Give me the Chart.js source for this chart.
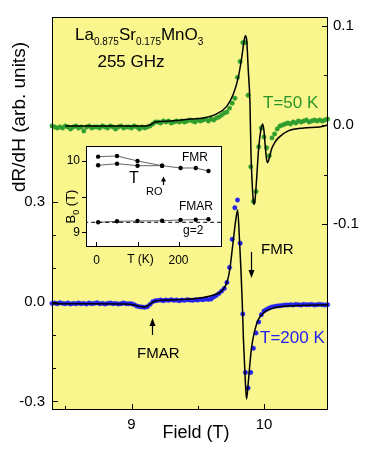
<!DOCTYPE html>
<html>
<head>
<meta charset="utf-8">
<script src="https://cdn.jsdelivr.net/npm/chart.js@4.4.0/dist/chart.umd.min.js"></script>
<style>
  html, body { margin: 0; padding: 0; background: #fff; }
  #wrap { position: relative; width: 370px; height: 453px; }
  #wrap canvas { position: absolute; left: 0; top: 0; }
</style>
</head>
<body>
<div id="wrap">
  <canvas id="mainChart" width="370" height="453"></canvas>
  <canvas id="insetChart" width="370" height="453"></canvas>
</div>
<script>
(function(){

	"use strict";

// Field grid (T), shared by both spectra
	const field = [8.40,8.42,8.44,8.46,8.48,8.50,8.52,8.54,8.56,8.58,
		8.60,8.62,8.64,8.66,8.68,8.70,8.72,8.74,8.76,8.78,
		8.80,8.82,8.84,8.86,8.88,8.90,8.92,8.94,8.96,8.98,
		9.00,9.02,9.04,9.06,9.08,9.10,9.12,9.14,9.16,9.18,
		9.20,9.22,9.24,9.26,9.28,9.30,9.32,9.34,9.36,9.38,
		9.40,9.42,9.44,9.46,9.48,9.50,9.52,9.54,9.56,9.58,
		9.60,9.62,9.64,9.66,9.68,9.70,9.72,9.74,9.76,9.78,
		9.80,9.82,9.84,9.86,9.88,9.90,9.92,9.94,9.96,9.98,
		10.00,10.02,10.04,10.06,10.08,10.10,10.12,10.14,10.16,10.18,
		10.20,10.22,10.24,10.26,10.28,10.30,10.32,10.34,10.36,10.38,
		10.40,10.42,10.44,10.46,10.48];

// T=200 K spectrum (left axis)
	const blue200 = [-0.005,-0.004,-0.006,-0.003,-0.005,-0.006,-0.004,-0.007,-0.005,-0.006,
		-0.004,-0.006,-0.005,-0.007,-0.004,-0.006,-0.005,-0.003,-0.006,-0.005,
		-0.007,-0.005,-0.004,-0.006,-0.005,-0.007,-0.006,-0.004,-0.006,-0.006,
		-0.006,-0.009,-0.013,-0.015,-0.016,-0.017,-0.015,-0.008,0.000,0.003,
		0.004,0.005,0.003,0.005,0.004,0.006,0.004,0.005,0.003,0.005,
		0.004,0.006,0.005,0.004,0.006,0.005,0.007,0.006,0.008,0.007,
		0.008,0.014,0.019,0.025,0.032,0.040,0.058,0.103,0.188,0.283,
		0.306,0.176,-0.037,-0.213,-0.260,-0.213,-0.140,-0.094,-0.061,-0.039,
		-0.028,-0.023,-0.019,-0.016,-0.014,-0.013,-0.012,-0.011,-0.010,-0.010,
		-0.009,-0.010,-0.008,-0.009,-0.010,-0.008,-0.009,-0.009,-0.008,-0.010,
		-0.009,-0.008,-0.009,-0.010,-0.009];

// T=50 K spectrum (right axis)
	const green50 = [-0.001,-0.002,-0.003,-0.002,-0.003,-0.001,-0.002,-0.004,-0.002,-0.001,
		-0.003,-0.002,-0.006,-0.002,-0.001,-0.003,-0.002,-0.002,-0.003,-0.001,
		-0.002,-0.003,-0.001,-0.002,-0.004,-0.002,-0.001,-0.003,-0.002,-0.002,
		-0.003,-0.001,-0.002,-0.004,-0.002,-0.003,-0.002,-0.001,0.001,0.003,
		0.003,0.002,0.004,0.003,0.004,0.002,0.003,0.004,0.003,0.004,
		0.003,0.004,0.005,0.004,0.003,0.005,0.004,0.005,0.006,0.004,
		0.006,0.005,0.007,0.008,0.010,0.012,0.013,0.017,0.022,0.027,
		0.048,0.064,0.083,0.083,0.030,-0.042,-0.077,-0.067,-0.022,-0.003,
		-0.012,-0.023,-0.031,-0.013,-0.009,-0.004,-0.001,0.000,0.001,0.002,
		0.001,0.003,0.002,0.004,0.003,0.004,0.005,0.003,0.004,0.005,
		0.004,0.005,0.004,0.005,0.006];

// Fit curves
	const fit200Field = [8.40,8.70,8.96,9.02,9.06,9.09,9.12,9.15,9.18,9.25,9.40,9.52,9.62,9.68,9.72,
		9.741,9.764,9.787,9.801,9.815,9.826,9.836,9.845,9.857,9.868,9.881,9.894,9.907,9.932,9.957,
		9.995,10.07,10.22,10.48];
	const fit200 = [-0.006,-0.006,-0.007,-0.010,-0.014,-0.016,-0.013,-0.004,0.002,0.005,0.007,0.011,0.020,0.032,0.058,
		0.095,0.170,0.246,0.276,0.186,0.095,-0.004,-0.115,-0.221,-0.293,-0.245,-0.185,-0.135,-0.084,-0.054,
		-0.034,-0.019,-0.012,-0.009];
	const fit50Field = [8.50,8.80,9.10,9.14,9.18,9.30,9.45,9.54,9.64,9.72,
		9.768,9.806,9.832,9.850,9.859,9.869,9.881,9.894,9.902,9.912,
		9.920,9.925,9.932,9.945,9.957,9.975,9.990,10.000,10.008,10.018,
		10.025,10.034,10.046,10.058,10.080,10.108,10.183,10.300,10.420,10.480];
	const fit50 = [-0.001,-0.001,-0.001,0.000,0.003,0.004,0.006,0.007,0.011,0.019,
		0.031,0.048,0.068,0.085,0.090,0.086,0.056,0.022,-0.030,-0.062,
		-0.077,-0.080,-0.076,-0.053,-0.028,-0.006,0.001,-0.006,-0.019,-0.033,
		-0.038,-0.036,-0.030,-0.024,-0.018,-0.013,-0.006,-0.003,-0.002,0.000];

// Inset: resonance field B0 (T) vs temperature (K)
	const insetTemp = [4, 50, 100, 160, 205, 242, 273];
	const fmrHigh = [10.056, 10.066, 9.996, 9.930, 9.898, 9.898, 9.856];
	const fmrLowTemp = [4, 50, 100, 160];
	const fmrLow = [9.936, 9.958, 9.930, 9.930];
	const fmar = [9.140, 9.154, 9.158, 9.162, 9.172, 9.176, 9.182];
	const g2Temp = [-30, 310];
	const g2Field = [9.14, 9.14];

// Tick values
	const xTicks = [9, 10];
	const xMinor = [8.5, 9.5];
	const leftTicks = [-0.3, 0, 0.3];
	const leftMinor = [-0.2, -0.1, 0.1, 0.2];
	const rightTicks = [-0.1, 0, 0.1];
	const rightMinor = [-0.05, 0.05];
	const insetXTicks = [0, 200];
	const insetXMinor = [100];
	const insetYTicks = [9, 10];
	const insetYMinor = [9.5];

// Misc
	const FONT = "'Liberation Sans', Arial, sans-serif";
	const plotYellow = '#FAF68E';
	const blueDot = '#2424F2';
	const greenDot = '#2E9E2E';
	Chart.defaults.font.family = FONT;
	Chart.defaults.color = '#000';

	function pts(xs, ys){
		return xs.map(function(x, i){ return {x: x, y: ys[i]}; });
	}

	function fixTicks(vals){
		return function(scale){
			scale.ticks = vals.map(function(v){ return {value: v}; });
		};
	}

	function drawTicks(ctx, chart, id, major, minor, inward, lenMajor, lenMinor){
		const s = chart.scales[id];
		const a = chart.chartArea;
		const d = inward ? 1 : -1;
		ctx.save();
		ctx.strokeStyle = '#000';
		ctx.lineWidth = 1;
		ctx.beginPath();
		major.map(function(v){ return [v, lenMajor]; }).concat(minor.map(function(v){ return [v, lenMinor]; })).forEach(function(t){
			const p = Math.round(s.getPixelForValue(t[0])) + 0.5;
			if (s.position === 'bottom') {
				ctx.moveTo(p, a.bottom);
				ctx.lineTo(p, a.bottom - d * t[1]);
			}
			else if (s.position === 'left') {
				ctx.moveTo(a.left, p);
				ctx.lineTo(a.left + d * t[1], p);
			}
			else {
				ctx.moveTo(a.right, p);
				ctx.lineTo(a.right - d * t[1], p);
			}
		});
		ctx.stroke();
		ctx.restore();
	}

	function frame(ctx, a){
		ctx.save();
		ctx.strokeStyle = '#000';
		ctx.lineWidth = 1;
		ctx.strokeRect(a.left + 0.5, a.top + 0.5, a.right - a.left - 1, a.bottom - a.top - 1);
		ctx.restore();
	}

	// parts: [text, size, dy]
	function richText(ctx, x, y, parts){
		let cx = x;
		parts.forEach(function(p){
			ctx.font = p[1] + 'px ' + FONT;
			ctx.fillText(p[0], cx, y + p[2]);
			cx += ctx.measureText(p[0]).width;
		});
		return cx;
	}

	function arrow(ctx, x, yTail, yTip, head, half){
		const d = yTip > yTail ? 1 : -1;
		ctx.beginPath();
		ctx.moveTo(x, yTail);
		ctx.lineTo(x, yTip - d * head * 0.6);
		ctx.stroke();
		ctx.beginPath();
		ctx.moveTo(x, yTip);
		ctx.lineTo(x - half, yTip - d * head);
		ctx.lineTo(x + half, yTip - d * head);
		ctx.closePath();
		ctx.fill();
	}

// Main chart plugins
	const mainDecor = {
		id: 'mainDecor',
		beforeDraw: function(chart){
			const ctx = chart.ctx, a = chart.chartArea;
			ctx.save();
			ctx.fillStyle = '#fff';
			ctx.fillRect(0, 0, chart.width, chart.height);
			ctx.fillStyle = plotYellow;
			ctx.fillRect(a.left, a.top, a.right - a.left, a.bottom - a.top);
			ctx.restore();
		},
		afterDraw: function(chart){
			const ctx = chart.ctx;
			const sx = chart.scales.x, sl = chart.scales.yL;
			frame(ctx, chart.chartArea);
			drawTicks(ctx, chart, 'x', xTicks, xMinor, true, 6, 4);
			drawTicks(ctx, chart, 'yL', leftTicks, leftMinor, true, 6, 4);
			drawTicks(ctx, chart, 'yR', rightTicks, rightMinor, true, 6, 4);

			ctx.save();
			ctx.fillStyle = '#000';
			ctx.textBaseline = 'alphabetic';
			ctx.textAlign = 'left';
			richText(ctx, 75, 40, [['La', 17, 0], ['0.875', 10, 5], ['Sr', 17, 0], ['0.175', 10, 5], ['MnO', 17, 0], ['3', 10, 5]]);
			ctx.textAlign = 'center';
			ctx.font = '17px ' + FONT;
			ctx.fillText('255 GHz', 131, 67);

			ctx.textAlign = 'left';
			ctx.fillStyle = '#2A962A';
			ctx.fillText('T=50 K', 263, 108);
			ctx.fillStyle = '#2222EE';
			ctx.fillText('T=200 K', 260, 343);

			ctx.fillStyle = '#000';
			ctx.font = '15px ' + FONT;
			ctx.fillText('FMR', 261, 254);
			ctx.fillText('FMAR', 137, 358);

			// axis titles
			ctx.font = '18px ' + FONT;
			ctx.textAlign = 'center';
			ctx.fillText('Field (T)', 196, 438);
			ctx.save();
			ctx.translate(25, 117);
			ctx.rotate(-Math.PI / 2);
			ctx.font = '19px ' + FONT;
			ctx.fillText('dR/dH (arb. units)', 0, 0);
			ctx.restore();

			// arrows
			ctx.strokeStyle = '#000';
			ctx.lineWidth = 1.2;
			arrow(ctx, Math.round(sx.getPixelForValue(9.902)) + 0.5, sl.getPixelForValue(0.150), sl.getPixelForValue(0.071), 8, 3);
			arrow(ctx, Math.round(sx.getPixelForValue(9.157)) + 0.5, sl.getPixelForValue(-0.100), sl.getPixelForValue(-0.049), 8, 3);
			ctx.restore();
		}
	};

	const noGrid = { display: false, drawTicks: false };

	const mainChart = new Chart(document.getElementById('mainChart'), {
		type: 'scatter',
		data: {
			datasets: [
				{ data: pts(field, blue200), yAxisID: 'yL', showLine: false, pointRadius: 2.2,
					pointBackgroundColor: blueDot, pointBorderColor: blueDot, pointBorderWidth: 0.5, clip: false, order: 1 },
				{ data: pts(fit200Field, fit200), yAxisID: 'yL', showLine: true, borderColor: '#000', borderWidth: 1.5,
					pointRadius: 0, cubicInterpolationMode: 'monotone', order: 0 },
				{ data: pts(field, green50), yAxisID: 'yR', showLine: false, pointRadius: 2.2,
					pointBackgroundColor: greenDot, pointBorderColor: greenDot, pointBorderWidth: 0.5, clip: false, order: 3 },
				{ data: pts(fit50Field, fit50), yAxisID: 'yR', showLine: true, borderColor: '#000', borderWidth: 1.5,
					pointRadius: 0, cubicInterpolationMode: 'monotone', order: 2 }
			]
		},
		options: {
			responsive: false,
			animation: false,
			events: [],
			layout: { padding: { top: 17, left: 0, right: 0, bottom: 0 } },
			plugins: { legend: { display: false }, tooltip: { enabled: false } },
			scales: {
				x: {
					type: 'linear', position: 'bottom', min: 8.40, max: 10.483,
					grid: noGrid, border: { display: false },
					afterBuildTicks: fixTicks(xTicks),
					afterFit: function(s){ s.height = 43; },
					ticks: { font: { size: 15 }, padding: 6, callback: function(v){ return String(v); } }
				},
				yL: {
					type: 'linear', position: 'left', min: -0.326, max: 0.857,
					grid: noGrid, border: { display: false },
					afterBuildTicks: fixTicks(leftTicks),
					afterFit: function(s){ s.width = 52; },
					ticks: { font: { size: 15 }, padding: 7, callback: function(v){ return v.toFixed(1); } }
				},
				yR: {
					type: 'linear', position: 'right', min: -0.2872, max: 0.1088,
					grid: noGrid, border: { display: false },
					afterBuildTicks: fixTicks(rightTicks),
					afterFit: function(s){ s.width = 42; },
					ticks: { font: { size: 15 }, padding: 5, callback: function(v){ return v.toFixed(1); } }
				}
			}
		},
		plugins: [mainDecor]
	});

// Inset chart
	const insetDecor = {
		id: 'insetDecor',
		beforeDraw: function(chart){
			const ctx = chart.ctx, a = chart.chartArea;
			ctx.save();
			ctx.fillStyle = '#fff';
			ctx.fillRect(a.left, a.top, a.right - a.left, a.bottom - a.top);
			ctx.restore();
		},
		afterDraw: function(chart){
			const ctx = chart.ctx;
			frame(ctx, chart.chartArea);
			drawTicks(ctx, chart, 'x', insetXTicks, insetXMinor, true, 5, 5);
			drawTicks(ctx, chart, 'y', insetYTicks, insetYMinor, false, 4, 4);

			ctx.save();
			ctx.fillStyle = '#000';
			ctx.textBaseline = 'alphabetic';
			ctx.textAlign = 'left';
			ctx.font = '12px ' + FONT;
			ctx.fillText('FMR', 182, 161);
			ctx.fillText('FMAR', 179, 210);
			ctx.fillText('g=2', 183, 234);
			ctx.textAlign = 'center';
			ctx.fillText('T (K)', 140.5, 263);
			ctx.textAlign = 'left';
			ctx.font = '16px ' + FONT;
			ctx.fillText('T', 129, 183);
			ctx.font = '11px ' + FONT;
			ctx.fillText('RO', 146, 195);

			ctx.strokeStyle = '#000';
			ctx.lineWidth = 1.2;
			arrow(ctx, 163.5, 185, 176.5, 5, 2.5);

			ctx.save();
			ctx.translate(75, 206);
			ctx.rotate(-Math.PI / 2);
			ctx.font = '13px ' + FONT;
			const w = ctx.measureText('B (T)').width;
			richText(ctx, -w / 2 - 3, 0, [['B', 13, 0], ['0', 9, 4], [' (T)', 13, 0]]);
			ctx.restore();
			ctx.restore();
		}
	};

	const insetChart = new Chart(document.getElementById('insetChart'), {
		type: 'scatter',
		data: {
			datasets: [
				{ data: pts(g2Temp, g2Field), showLine: true, borderColor: '#000', borderWidth: 1,
					borderDash: [4, 3], pointRadius: 0 },
				{ data: pts(insetTemp, fmrHigh), showLine: true, borderColor: '#666', borderWidth: 1,
					pointRadius: 2.2, pointBackgroundColor: '#000', pointBorderColor: '#000', pointBorderWidth: 0 },
				{ data: pts(fmrLowTemp, fmrLow), showLine: true, borderColor: '#666', borderWidth: 1,
					pointRadius: 2.2, pointBackgroundColor: '#000', pointBorderColor: '#000', pointBorderWidth: 0 },
				{ data: pts(insetTemp, fmar), showLine: true, borderColor: '#666', borderWidth: 1,
					pointRadius: 2.2, pointBackgroundColor: '#000', pointBorderColor: '#000', pointBorderWidth: 0 }
			]
		},
		options: {
			responsive: false,
			animation: false,
			events: [],
			layout: { padding: { top: 146, left: 0, right: 148, bottom: 176 } },
			plugins: { legend: { display: false }, tooltip: { enabled: false } },
			scales: {
				x: {
					type: 'linear', min: -25.6, max: 306,
					grid: noGrid, border: { display: false },
					afterBuildTicks: fixTicks(insetXTicks),
					afterFit: function(s){ s.height = 30; },
					ticks: { font: { size: 12 }, padding: 6, callback: function(v){ return String(v); } }
				},
				y: {
					type: 'linear', min: 8.795, max: 10.205,
					grid: noGrid, border: { display: false },
					afterBuildTicks: fixTicks(insetYTicks),
					afterFit: function(s){ s.width = 86; },
					ticks: { font: { size: 12 }, padding: 6, callback: function(v){ return String(v); } }
				}
			}
		},
		plugins: [insetDecor]
	});

})();
</script>
</body>
</html>
